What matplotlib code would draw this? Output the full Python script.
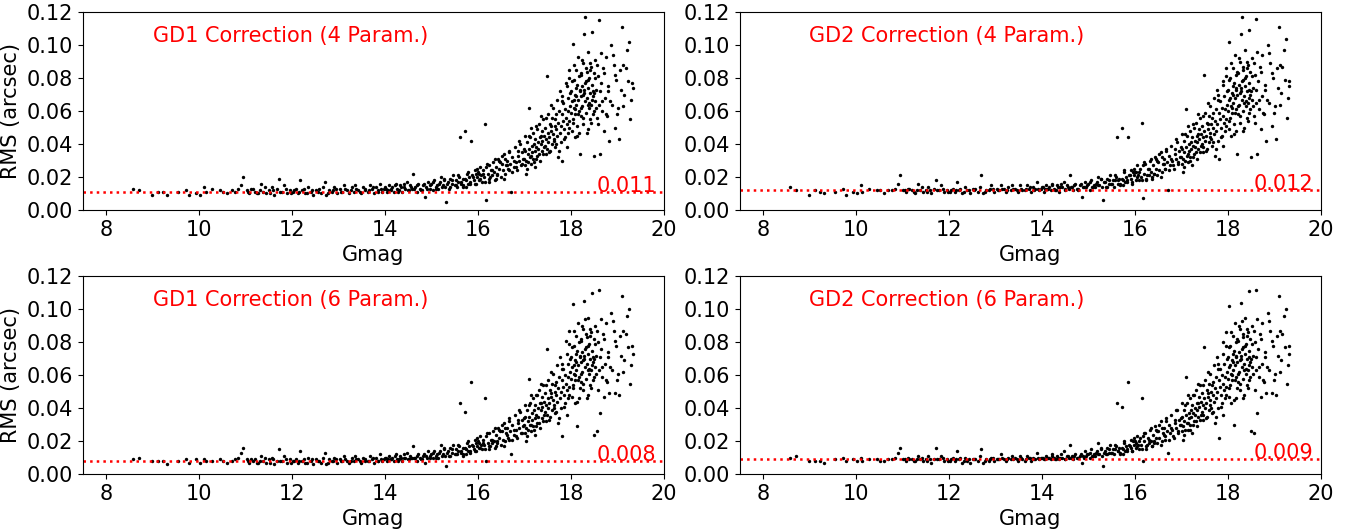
import matplotlib
matplotlib.use('Agg')
import matplotlib.pyplot as plt
import numpy as np

# magnitudes of the stars (same stars in all four panels)
gmag = [
    8.58, 8.70, 8.98, 9.12, 9.22, 9.31, 9.55, 9.72, 9.78, 9.93,
    10.02, 10.10, 10.14, 10.28, 10.45, 10.52, 10.61, 10.70, 10.78, 10.84,
    10.90, 10.95, 11.02, 11.08, 11.15, 11.20, 11.27, 11.33, 11.38, 11.45,
    11.50, 11.56, 11.62, 11.68, 11.72, 11.78, 11.83, 11.90, 11.95, 12.02,
    12.08, 12.13, 12.18, 12.22, 12.28, 12.35, 12.40, 12.46, 12.52, 12.57,
    12.63, 12.70, 12.74, 12.80, 12.86, 12.91, 12.97, 13.03, 13.08, 13.12,
    13.18, 13.23, 13.28, 13.33, 13.38, 13.43, 13.48, 13.53, 13.58, 13.63,
    13.68, 13.72, 13.77, 13.81, 13.86, 13.90, 13.94, 13.98, 14.02, 14.05,
    14.09, 14.12, 14.16, 14.19, 14.23, 14.26, 14.30, 14.33, 14.37, 14.40,
    14.44, 14.47, 14.51, 14.54, 14.58, 14.61, 14.65, 14.68, 14.72, 14.75,
    14.79, 14.82, 14.86, 14.89, 14.93, 14.96, 15.00, 15.03, 15.06, 15.09,
    15.12, 15.15, 15.18, 15.21, 15.24, 15.27, 15.30, 15.32, 15.35, 15.38,
    15.41, 15.44, 15.47, 15.50, 15.53, 15.55, 15.58, 15.60, 15.62, 15.64,
    15.67, 15.69, 15.72, 15.74, 15.77, 15.79, 15.81, 15.84, 15.86, 15.88,
    15.91, 15.93, 15.95, 15.98, 16.00, 16.02, 16.05, 16.07, 16.09, 16.12,
    16.14, 16.16, 16.18, 16.21, 16.23, 16.25, 16.28, 16.30, 16.32, 16.35,
    16.37, 16.39, 16.42, 16.44, 16.46, 16.49, 16.51, 16.53, 16.56, 16.58,
    16.60, 16.63, 16.65, 16.67, 16.70, 16.72, 16.74, 16.77, 16.79, 16.81,
    16.84, 16.86, 16.88, 16.91, 16.93, 16.95, 16.98, 17.00, 17.01, 17.02,
    17.04, 17.05, 17.06, 17.07, 17.08, 17.10, 17.11, 17.12, 17.13, 17.15,
    17.16, 17.17, 17.18, 17.19, 17.21, 17.22, 17.23, 17.24, 17.26, 17.27,
    17.28, 17.29, 17.30, 17.32, 17.33, 17.34, 17.35, 17.37, 17.38, 17.39,
    17.40, 17.41, 17.43, 17.44, 17.45, 17.46, 17.48, 17.49, 17.50, 17.51,
    17.52, 17.54, 17.55, 17.56, 17.57, 17.59, 17.60, 17.61, 17.62, 17.63,
    17.65, 17.66, 17.67, 17.68, 17.70, 17.71, 17.72, 17.73, 17.74, 17.76,
    17.77, 17.78, 17.79, 17.81, 17.82, 17.83, 17.84, 17.85, 17.87, 17.88,
    17.89, 17.90, 17.92, 17.93, 17.94, 17.95, 17.96, 17.97, 17.98, 17.99,
    18.00, 18.01, 18.02, 18.03, 18.04, 18.05, 18.06, 18.07, 18.08, 18.09,
    18.10, 18.11, 18.12, 18.13, 18.14, 18.15, 18.16, 18.17, 18.18, 18.19,
    18.20, 18.21, 18.22, 18.23, 18.24, 18.25, 18.26, 18.27, 18.28, 18.29,
    18.30, 18.31, 18.32, 18.33, 18.34, 18.35, 18.36, 18.37, 18.38, 18.39,
    18.40, 18.41, 18.42, 18.43, 18.44, 18.45, 18.46, 18.47, 18.48, 18.49,
    18.50, 18.52, 18.53, 18.55, 18.56, 18.58, 18.60, 18.61, 18.63, 18.65,
    18.67, 18.69, 18.71, 18.73, 18.75, 18.78, 18.80, 18.83, 18.86, 18.89,
    18.92, 18.95, 18.98, 19.02, 19.04, 19.06, 19.10, 19.13, 19.15, 19.22,
    19.25, 19.28, 19.31,
    # second batch, mostly the faint end
    11.05, 11.12, 11.24, 11.31, 11.42, 11.53, 11.60, 11.75, 11.87, 11.98,
    12.05, 12.16, 12.25, 12.33, 12.44, 12.55, 12.66, 12.78, 12.89, 12.95,
    13.05, 13.15, 13.26, 13.36, 13.46, 13.56, 13.66, 13.75, 13.84, 13.92,
    14.00, 14.07, 14.14, 14.21, 14.28, 14.35, 14.42, 14.49, 14.56, 14.63,
    14.70, 14.77, 14.84, 14.91, 14.98, 15.04, 15.10, 15.16, 15.22, 15.28,
    15.34, 15.40, 15.45, 15.52, 15.57, 15.63, 15.68, 15.73, 15.78, 15.83,
    15.89, 15.94, 15.99, 16.04, 16.10, 16.15, 16.20, 16.26, 16.31, 16.36,
    16.41, 16.47, 16.52, 16.57, 16.62, 16.68, 16.73, 16.78, 16.83, 16.89,
    16.94, 16.99, 17.03, 17.09, 17.14, 17.20, 17.25, 17.31, 17.36, 17.42,
    17.47, 17.53, 17.58, 17.64, 17.69, 17.75, 17.80, 17.86, 17.91, 17.97,
    17.02, 17.14, 17.26, 17.36, 17.47, 17.58, 17.69, 17.80, 17.91, 17.96,
    18.02, 18.04, 18.07, 18.09, 18.12, 18.14, 18.17, 18.19, 18.22, 18.24,
    18.27, 18.29, 18.32, 18.34, 18.37, 18.39, 18.42, 18.44, 18.47, 18.49,
    18.52, 18.54, 18.57, 18.59, 18.62, 18.64, 18.68, 18.72, 18.76, 18.81,
    18.85, 18.90, 18.96, 19.00, 19.08, 19.12, 19.18, 19.24, 19.29, 19.33,
    18.06, 18.11, 18.16, 18.21, 18.26, 18.31, 18.36, 18.41, 18.46, 18.51,
    16.03, 16.24, 16.45, 16.66, 16.87, 15.75, 15.96, 16.17, 16.38, 16.59,
]

rms_gd1_4 = [
    0.013, 0.012, 0.009, 0.011, 0.011, 0.009, 0.011, 0.012, 0.009, 0.010,
    0.009, 0.014, 0.011, 0.013, 0.012, 0.011, 0.010, 0.012, 0.011, 0.013,
    0.015, 0.020, 0.012, 0.010, 0.013, 0.011, 0.010, 0.016, 0.011, 0.010,
    0.012, 0.014, 0.009, 0.013, 0.019, 0.011, 0.015, 0.010, 0.012, 0.011,
    0.013, 0.010, 0.018, 0.012, 0.010, 0.014, 0.011, 0.009, 0.012, 0.013,
    0.010, 0.017, 0.009, 0.012, 0.011, 0.014, 0.010, 0.013, 0.011, 0.015,
    0.012, 0.010, 0.014, 0.011, 0.013, 0.012, 0.010, 0.014, 0.012, 0.011,
    0.015, 0.013, 0.010, 0.014, 0.012, 0.016, 0.011, 0.013, 0.013, 0.011,
    0.015, 0.012, 0.014, 0.011, 0.016, 0.013, 0.012, 0.015, 0.011, 0.014,
    0.013, 0.017, 0.012, 0.015, 0.013, 0.022, 0.014, 0.011, 0.016, 0.013,
    0.012, 0.015, 0.008, 0.014, 0.017, 0.013, 0.016, 0.012, 0.018, 0.014,
    0.015, 0.013, 0.017, 0.020, 0.015, 0.018, 0.014, 0.005, 0.017, 0.013,
    0.019, 0.016, 0.021, 0.015, 0.018, 0.014, 0.017, 0.020, 0.044, 0.016,
    0.019, 0.015, 0.048, 0.018, 0.022, 0.016, 0.020, 0.017, 0.042, 0.021,
    0.018, 0.024, 0.016, 0.020, 0.023, 0.018, 0.026, 0.021, 0.017, 0.024,
    0.020, 0.052, 0.006, 0.022, 0.027, 0.019, 0.024, 0.021, 0.029, 0.023,
    0.018, 0.026, 0.022, 0.031, 0.025, 0.020, 0.028, 0.024, 0.034, 0.022,
    0.027, 0.030, 0.025, 0.036, 0.028, 0.011, 0.032, 0.026, 0.038, 0.029,
    0.024, 0.033, 0.030, 0.040, 0.027, 0.035, 0.031, 0.031, 0.027, 0.036,
    0.030, 0.041, 0.025, 0.034, 0.029, 0.062, 0.037, 0.032, 0.044, 0.028,
    0.039, 0.035, 0.047, 0.031, 0.040, 0.036, 0.026, 0.043, 0.038, 0.049,
    0.033, 0.041, 0.037, 0.052, 0.030, 0.044, 0.040, 0.036, 0.048, 0.042,
    0.055, 0.034, 0.045, 0.039, 0.050, 0.043, 0.037, 0.081, 0.047, 0.041,
    0.058, 0.044, 0.036, 0.052, 0.048, 0.040, 0.056, 0.046, 0.062, 0.043,
    0.051, 0.038, 0.055, 0.049, 0.067, 0.045, 0.032, 0.053, 0.060, 0.047,
    0.072, 0.051, 0.041, 0.058, 0.030, 0.054, 0.065, 0.049, 0.061, 0.044,
    0.077, 0.056, 0.052, 0.068, 0.047, 0.060, 0.085, 0.054, 0.071, 0.063,
    0.059, 0.072, 0.048, 0.066, 0.101, 0.055, 0.079, 0.062, 0.044, 0.070,
    0.058, 0.085, 0.064, 0.051, 0.076, 0.067, 0.093, 0.060, 0.047, 0.073,
    0.034, 0.069, 0.082, 0.057, 0.075, 0.063, 0.089, 0.052, 0.071, 0.107,
    0.066, 0.117, 0.078, 0.059, 0.084, 0.068, 0.049, 0.074, 0.096, 0.062,
    0.080, 0.055, 0.071, 0.087, 0.064, 0.108, 0.076, 0.058, 0.069, 0.083,
    0.033, 0.066, 0.091, 0.073, 0.056, 0.081, 0.115, 0.064, 0.034, 0.077,
    0.060, 0.086, 0.048, 0.068, 0.093, 0.057, 0.072, 0.042, 0.100, 0.064,
    0.088, 0.050, 0.079, 0.062, 0.043, 0.085, 0.111, 0.088, 0.070, 0.097,
    0.102, 0.055, 0.077,
    0.011, 0.013, 0.010, 0.012, 0.014, 0.010, 0.012, 0.011, 0.013, 0.010,
    0.012, 0.011, 0.013, 0.010, 0.012, 0.011, 0.014, 0.010, 0.012, 0.013,
    0.011, 0.013, 0.012, 0.015, 0.011, 0.013, 0.012, 0.014, 0.011, 0.013,
    0.014, 0.012, 0.013, 0.015, 0.011, 0.014, 0.016, 0.012, 0.014, 0.013,
    0.015, 0.012, 0.016, 0.013, 0.015, 0.017, 0.013, 0.016, 0.014, 0.019,
    0.016, 0.014, 0.018, 0.015, 0.021, 0.017, 0.014, 0.019, 0.023, 0.016,
    0.020, 0.016, 0.025, 0.019, 0.022, 0.017, 0.028, 0.020, 0.024, 0.031,
    0.021, 0.029, 0.033, 0.019, 0.027, 0.035, 0.023, 0.030, 0.026, 0.042,
    0.028, 0.037, 0.022, 0.045, 0.033, 0.029, 0.051, 0.034, 0.045, 0.038,
    0.056, 0.035, 0.064, 0.042, 0.058, 0.036, 0.066, 0.043, 0.075, 0.050,
    0.045, 0.050, 0.031, 0.057, 0.034, 0.051, 0.040, 0.069, 0.038, 0.080,
    0.078, 0.053, 0.088, 0.061, 0.069, 0.045, 0.081, 0.072, 0.062, 0.091,
    0.056, 0.073, 0.086, 0.047, 0.079, 0.065, 0.089, 0.053, 0.072, 0.060,
    0.080, 0.062, 0.088, 0.052, 0.072, 0.095, 0.066, 0.083, 0.058, 0.075,
    0.066, 0.094, 0.082, 0.058, 0.073, 0.063, 0.086, 0.078, 0.067, 0.074,
    0.067, 0.074, 0.058, 0.083, 0.070, 0.077, 0.064, 0.085, 0.067, 0.071,
    0.022, 0.017, 0.030, 0.024, 0.036, 0.014, 0.022, 0.026, 0.019, 0.031,
]

rms_gd2_4 = [
    0.014, 0.012, 0.009, 0.012, 0.011, 0.010, 0.011, 0.013, 0.009, 0.011,
    0.010, 0.015, 0.011, 0.013, 0.012, 0.012, 0.010, 0.012, 0.012, 0.013,
    0.016, 0.021, 0.012, 0.011, 0.013, 0.012, 0.010, 0.016, 0.012, 0.011,
    0.012, 0.014, 0.010, 0.013, 0.018, 0.012, 0.015, 0.011, 0.012, 0.011,
    0.013, 0.011, 0.017, 0.012, 0.010, 0.014, 0.012, 0.010, 0.013, 0.013,
    0.011, 0.021, 0.010, 0.012, 0.012, 0.015, 0.011, 0.013, 0.012, 0.015,
    0.013, 0.011, 0.014, 0.012, 0.013, 0.013, 0.011, 0.015, 0.012, 0.012,
    0.015, 0.013, 0.011, 0.014, 0.013, 0.017, 0.012, 0.013, 0.014, 0.011,
    0.015, 0.013, 0.014, 0.012, 0.016, 0.013, 0.012, 0.015, 0.011, 0.014,
    0.014, 0.017, 0.012, 0.015, 0.013, 0.021, 0.014, 0.012, 0.016, 0.013,
    0.012, 0.015, 0.008, 0.014, 0.017, 0.014, 0.016, 0.012, 0.018, 0.014,
    0.015, 0.014, 0.017, 0.020, 0.015, 0.019, 0.014, 0.006, 0.017, 0.014,
    0.019, 0.016, 0.021, 0.016, 0.018, 0.014, 0.018, 0.020, 0.044, 0.016,
    0.019, 0.016, 0.050, 0.018, 0.023, 0.017, 0.020, 0.018, 0.044, 0.021,
    0.019, 0.024, 0.016, 0.021, 0.023, 0.018, 0.027, 0.021, 0.018, 0.025,
    0.020, 0.053, 0.007, 0.022, 0.028, 0.019, 0.025, 0.021, 0.030, 0.023,
    0.019, 0.027, 0.022, 0.032, 0.025, 0.021, 0.029, 0.024, 0.035, 0.023,
    0.028, 0.031, 0.025, 0.037, 0.029, 0.012, 0.033, 0.027, 0.039, 0.030,
    0.025, 0.034, 0.031, 0.041, 0.028, 0.036, 0.032, 0.032, 0.028, 0.037,
    0.031, 0.042, 0.026, 0.035, 0.030, 0.061, 0.038, 0.033, 0.045, 0.029,
    0.040, 0.036, 0.048, 0.032, 0.041, 0.037, 0.027, 0.044, 0.039, 0.050,
    0.034, 0.042, 0.038, 0.053, 0.031, 0.045, 0.041, 0.037, 0.049, 0.043,
    0.056, 0.035, 0.046, 0.040, 0.051, 0.044, 0.038, 0.082, 0.048, 0.042,
    0.059, 0.045, 0.037, 0.053, 0.049, 0.041, 0.057, 0.047, 0.063, 0.044,
    0.052, 0.039, 0.056, 0.050, 0.068, 0.046, 0.033, 0.054, 0.061, 0.048,
    0.073, 0.052, 0.042, 0.059, 0.031, 0.055, 0.066, 0.050, 0.062, 0.045,
    0.078, 0.057, 0.053, 0.069, 0.048, 0.061, 0.086, 0.055, 0.072, 0.064,
    0.060, 0.073, 0.049, 0.067, 0.102, 0.056, 0.080, 0.063, 0.045, 0.071,
    0.059, 0.086, 0.065, 0.052, 0.077, 0.068, 0.094, 0.061, 0.048, 0.074,
    0.034, 0.070, 0.083, 0.058, 0.076, 0.064, 0.090, 0.053, 0.072, 0.107,
    0.067, 0.117, 0.079, 0.060, 0.085, 0.069, 0.050, 0.075, 0.097, 0.063,
    0.081, 0.056, 0.072, 0.088, 0.065, 0.109, 0.077, 0.059, 0.070, 0.084,
    0.032, 0.067, 0.092, 0.074, 0.057, 0.082, 0.116, 0.065, 0.034, 0.078,
    0.061, 0.087, 0.049, 0.069, 0.094, 0.058, 0.073, 0.042, 0.100, 0.065,
    0.089, 0.051, 0.080, 0.063, 0.043, 0.086, 0.111, 0.088, 0.071, 0.097,
    0.104, 0.056, 0.078,
    0.012, 0.013, 0.011, 0.012, 0.014, 0.011, 0.012, 0.012, 0.013, 0.011,
    0.012, 0.012, 0.013, 0.011, 0.012, 0.012, 0.014, 0.011, 0.013, 0.013,
    0.012, 0.013, 0.012, 0.015, 0.012, 0.013, 0.013, 0.014, 0.012, 0.013,
    0.014, 0.013, 0.013, 0.015, 0.012, 0.014, 0.016, 0.013, 0.014, 0.014,
    0.015, 0.013, 0.016, 0.014, 0.015, 0.017, 0.014, 0.016, 0.015, 0.019,
    0.017, 0.014, 0.018, 0.016, 0.021, 0.018, 0.015, 0.019, 0.024, 0.017,
    0.021, 0.017, 0.025, 0.020, 0.023, 0.018, 0.029, 0.021, 0.025, 0.031,
    0.022, 0.030, 0.034, 0.020, 0.028, 0.036, 0.024, 0.031, 0.027, 0.043,
    0.029, 0.038, 0.023, 0.046, 0.034, 0.030, 0.052, 0.035, 0.046, 0.039,
    0.057, 0.036, 0.065, 0.043, 0.059, 0.037, 0.067, 0.044, 0.076, 0.051,
    0.046, 0.051, 0.032, 0.058, 0.035, 0.052, 0.041, 0.070, 0.039, 0.081,
    0.079, 0.054, 0.089, 0.062, 0.070, 0.046, 0.082, 0.073, 0.063, 0.092,
    0.057, 0.074, 0.087, 0.048, 0.080, 0.066, 0.090, 0.054, 0.073, 0.061,
    0.081, 0.063, 0.089, 0.053, 0.073, 0.096, 0.067, 0.084, 0.059, 0.076,
    0.067, 0.095, 0.083, 0.059, 0.074, 0.064, 0.087, 0.079, 0.068, 0.075,
    0.068, 0.075, 0.059, 0.084, 0.071, 0.078, 0.065, 0.086, 0.068, 0.072,
    0.023, 0.018, 0.031, 0.025, 0.037, 0.015, 0.023, 0.027, 0.020, 0.032,
]

rms_gd1_6 = [
    0.009, 0.010, 0.008, 0.008, 0.008, 0.006, 0.008, 0.009, 0.007, 0.009,
    0.007, 0.009, 0.008, 0.008, 0.009, 0.008, 0.007, 0.008, 0.009, 0.010,
    0.013, 0.016, 0.009, 0.007, 0.008, 0.009, 0.007, 0.011, 0.008, 0.007,
    0.009, 0.010, 0.006, 0.008, 0.015, 0.008, 0.011, 0.007, 0.009, 0.008,
    0.009, 0.007, 0.014, 0.008, 0.007, 0.010, 0.008, 0.006, 0.009, 0.008,
    0.007, 0.013, 0.006, 0.009, 0.008, 0.010, 0.007, 0.009, 0.008, 0.011,
    0.008, 0.007, 0.010, 0.008, 0.009, 0.009, 0.007, 0.010, 0.008, 0.008,
    0.011, 0.009, 0.007, 0.010, 0.008, 0.012, 0.008, 0.009, 0.010, 0.008,
    0.011, 0.009, 0.010, 0.008, 0.012, 0.009, 0.009, 0.011, 0.008, 0.010,
    0.010, 0.013, 0.009, 0.011, 0.010, 0.017, 0.010, 0.008, 0.012, 0.010,
    0.009, 0.011, 0.007, 0.011, 0.014, 0.010, 0.012, 0.010, 0.014, 0.011,
    0.012, 0.010, 0.014, 0.018, 0.012, 0.015, 0.011, 0.005, 0.014, 0.011,
    0.016, 0.013, 0.018, 0.012, 0.015, 0.012, 0.014, 0.017, 0.043, 0.013,
    0.016, 0.012, 0.038, 0.015, 0.019, 0.014, 0.017, 0.014, 0.056, 0.018,
    0.015, 0.021, 0.014, 0.017, 0.020, 0.016, 0.023, 0.018, 0.015, 0.021,
    0.018, 0.046, 0.008, 0.019, 0.025, 0.017, 0.021, 0.019, 0.026, 0.020,
    0.016, 0.024, 0.020, 0.028, 0.022, 0.018, 0.026, 0.021, 0.031, 0.020,
    0.025, 0.028, 0.022, 0.034, 0.026, 0.012, 0.030, 0.024, 0.036, 0.027,
    0.022, 0.031, 0.028, 0.038, 0.025, 0.033, 0.029, 0.030, 0.025, 0.035,
    0.028, 0.039, 0.023, 0.032, 0.027, 0.058, 0.035, 0.030, 0.043, 0.026,
    0.037, 0.033, 0.046, 0.029, 0.039, 0.034, 0.024, 0.042, 0.036, 0.048,
    0.031, 0.040, 0.035, 0.051, 0.028, 0.043, 0.039, 0.034, 0.047, 0.041,
    0.054, 0.032, 0.044, 0.038, 0.049, 0.042, 0.036, 0.076, 0.046, 0.040,
    0.057, 0.043, 0.035, 0.051, 0.047, 0.039, 0.055, 0.045, 0.061, 0.042,
    0.050, 0.037, 0.054, 0.048, 0.066, 0.044, 0.031, 0.052, 0.059, 0.046,
    0.071, 0.050, 0.040, 0.057, 0.023, 0.053, 0.064, 0.048, 0.060, 0.043,
    0.081, 0.055, 0.051, 0.067, 0.046, 0.059, 0.087, 0.053, 0.070, 0.062,
    0.058, 0.071, 0.047, 0.065, 0.103, 0.054, 0.078, 0.061, 0.043, 0.069,
    0.057, 0.084, 0.063, 0.029, 0.075, 0.066, 0.092, 0.059, 0.046, 0.072,
    0.052, 0.068, 0.081, 0.056, 0.074, 0.062, 0.088, 0.051, 0.070, 0.105,
    0.065, 0.094, 0.077, 0.058, 0.083, 0.067, 0.048, 0.073, 0.095, 0.061,
    0.079, 0.054, 0.070, 0.086, 0.063, 0.110, 0.075, 0.057, 0.068, 0.082,
    0.024, 0.065, 0.090, 0.072, 0.026, 0.080, 0.112, 0.063, 0.037, 0.076,
    0.059, 0.085, 0.047, 0.067, 0.092, 0.056, 0.071, 0.049, 0.098, 0.063,
    0.087, 0.049, 0.078, 0.061, 0.048, 0.084, 0.108, 0.087, 0.069, 0.096,
    0.100, 0.055, 0.078,
    0.008, 0.009, 0.007, 0.008, 0.010, 0.007, 0.009, 0.008, 0.009, 0.007,
    0.008, 0.008, 0.009, 0.007, 0.009, 0.008, 0.010, 0.007, 0.008, 0.009,
    0.008, 0.009, 0.008, 0.011, 0.008, 0.009, 0.008, 0.010, 0.008, 0.009,
    0.010, 0.009, 0.009, 0.011, 0.008, 0.010, 0.012, 0.009, 0.010, 0.010,
    0.011, 0.009, 0.012, 0.010, 0.011, 0.013, 0.010, 0.013, 0.011, 0.016,
    0.013, 0.011, 0.015, 0.012, 0.018, 0.014, 0.011, 0.016, 0.020, 0.013,
    0.017, 0.014, 0.022, 0.016, 0.019, 0.015, 0.025, 0.017, 0.021, 0.028,
    0.019, 0.026, 0.030, 0.017, 0.024, 0.032, 0.021, 0.027, 0.023, 0.039,
    0.025, 0.034, 0.020, 0.042, 0.030, 0.027, 0.048, 0.031, 0.043, 0.036,
    0.054, 0.033, 0.062, 0.040, 0.056, 0.034, 0.064, 0.041, 0.073, 0.048,
    0.042, 0.048, 0.029, 0.055, 0.032, 0.049, 0.038, 0.067, 0.036, 0.079,
    0.077, 0.052, 0.087, 0.060, 0.068, 0.044, 0.080, 0.071, 0.061, 0.090,
    0.055, 0.072, 0.085, 0.046, 0.078, 0.064, 0.088, 0.052, 0.071, 0.059,
    0.079, 0.061, 0.087, 0.051, 0.071, 0.094, 0.065, 0.082, 0.057, 0.074,
    0.065, 0.093, 0.081, 0.057, 0.072, 0.062, 0.085, 0.077, 0.066, 0.073,
    0.066, 0.073, 0.057, 0.082, 0.069, 0.076, 0.063, 0.084, 0.066, 0.070,
    0.019, 0.015, 0.027, 0.021, 0.033, 0.012, 0.019, 0.023, 0.017, 0.028,
]

rms_gd2_6 = [
    0.010, 0.011, 0.008, 0.008, 0.008, 0.007, 0.009, 0.010, 0.008, 0.009,
    0.008, 0.010, 0.008, 0.009, 0.009, 0.008, 0.008, 0.009, 0.009, 0.010,
    0.013, 0.016, 0.009, 0.008, 0.009, 0.009, 0.008, 0.011, 0.009, 0.008,
    0.009, 0.011, 0.007, 0.009, 0.016, 0.009, 0.011, 0.008, 0.009, 0.008,
    0.010, 0.008, 0.014, 0.009, 0.007, 0.010, 0.008, 0.007, 0.009, 0.009,
    0.008, 0.015, 0.007, 0.009, 0.008, 0.010, 0.008, 0.009, 0.009, 0.012,
    0.009, 0.008, 0.010, 0.009, 0.009, 0.010, 0.008, 0.011, 0.009, 0.008,
    0.011, 0.010, 0.008, 0.010, 0.009, 0.013, 0.009, 0.010, 0.010, 0.009,
    0.011, 0.010, 0.010, 0.009, 0.012, 0.010, 0.009, 0.011, 0.009, 0.010,
    0.010, 0.014, 0.009, 0.011, 0.010, 0.018, 0.011, 0.009, 0.012, 0.010,
    0.010, 0.011, 0.007, 0.011, 0.014, 0.011, 0.012, 0.010, 0.015, 0.011,
    0.012, 0.011, 0.014, 0.019, 0.012, 0.015, 0.011, 0.005, 0.014, 0.012,
    0.016, 0.013, 0.018, 0.013, 0.015, 0.012, 0.015, 0.017, 0.043, 0.014,
    0.016, 0.013, 0.041, 0.015, 0.019, 0.014, 0.017, 0.015, 0.056, 0.018,
    0.016, 0.021, 0.014, 0.018, 0.020, 0.016, 0.023, 0.018, 0.015, 0.022,
    0.018, 0.046, 0.008, 0.020, 0.025, 0.017, 0.022, 0.019, 0.027, 0.020,
    0.017, 0.024, 0.020, 0.029, 0.022, 0.019, 0.026, 0.022, 0.032, 0.020,
    0.025, 0.028, 0.023, 0.034, 0.026, 0.013, 0.030, 0.025, 0.036, 0.027,
    0.022, 0.031, 0.028, 0.039, 0.025, 0.033, 0.030, 0.030, 0.026, 0.035,
    0.029, 0.039, 0.024, 0.032, 0.027, 0.059, 0.036, 0.031, 0.043, 0.027,
    0.037, 0.034, 0.046, 0.030, 0.039, 0.035, 0.025, 0.042, 0.037, 0.048,
    0.032, 0.040, 0.036, 0.051, 0.029, 0.043, 0.039, 0.035, 0.047, 0.041,
    0.054, 0.033, 0.044, 0.038, 0.049, 0.042, 0.036, 0.077, 0.046, 0.040,
    0.057, 0.043, 0.035, 0.051, 0.047, 0.039, 0.055, 0.045, 0.061, 0.042,
    0.050, 0.037, 0.054, 0.048, 0.066, 0.044, 0.031, 0.052, 0.059, 0.046,
    0.071, 0.050, 0.040, 0.057, 0.022, 0.053, 0.064, 0.048, 0.060, 0.043,
    0.080, 0.055, 0.051, 0.067, 0.046, 0.059, 0.086, 0.053, 0.070, 0.062,
    0.058, 0.071, 0.047, 0.065, 0.102, 0.054, 0.078, 0.061, 0.043, 0.069,
    0.057, 0.084, 0.063, 0.030, 0.075, 0.066, 0.092, 0.059, 0.046, 0.072,
    0.052, 0.068, 0.081, 0.056, 0.074, 0.062, 0.088, 0.051, 0.070, 0.104,
    0.065, 0.093, 0.077, 0.058, 0.083, 0.067, 0.048, 0.073, 0.095, 0.061,
    0.079, 0.054, 0.070, 0.086, 0.063, 0.111, 0.075, 0.057, 0.068, 0.082,
    0.026, 0.065, 0.090, 0.072, 0.025, 0.080, 0.112, 0.063, 0.037, 0.076,
    0.059, 0.085, 0.047, 0.067, 0.092, 0.056, 0.071, 0.049, 0.098, 0.063,
    0.087, 0.049, 0.078, 0.061, 0.048, 0.084, 0.108, 0.087, 0.069, 0.096,
    0.100, 0.055, 0.078,
    0.009, 0.010, 0.008, 0.009, 0.010, 0.008, 0.009, 0.009, 0.010, 0.008,
    0.009, 0.009, 0.010, 0.008, 0.009, 0.009, 0.011, 0.008, 0.009, 0.010,
    0.009, 0.010, 0.009, 0.011, 0.009, 0.010, 0.009, 0.010, 0.009, 0.010,
    0.010, 0.009, 0.010, 0.011, 0.009, 0.010, 0.012, 0.009, 0.011, 0.010,
    0.011, 0.010, 0.012, 0.010, 0.012, 0.013, 0.011, 0.013, 0.012, 0.016,
    0.013, 0.012, 0.015, 0.013, 0.018, 0.014, 0.012, 0.016, 0.020, 0.014,
    0.017, 0.014, 0.022, 0.017, 0.020, 0.015, 0.025, 0.018, 0.021, 0.028,
    0.019, 0.026, 0.030, 0.018, 0.024, 0.032, 0.021, 0.028, 0.023, 0.039,
    0.026, 0.034, 0.021, 0.042, 0.031, 0.027, 0.048, 0.032, 0.043, 0.036,
    0.054, 0.034, 0.062, 0.040, 0.056, 0.035, 0.064, 0.041, 0.073, 0.048,
    0.043, 0.048, 0.030, 0.055, 0.033, 0.049, 0.038, 0.067, 0.036, 0.078,
    0.077, 0.052, 0.086, 0.060, 0.068, 0.045, 0.080, 0.071, 0.061, 0.090,
    0.055, 0.072, 0.085, 0.046, 0.078, 0.064, 0.088, 0.052, 0.071, 0.059,
    0.079, 0.061, 0.087, 0.051, 0.071, 0.094, 0.065, 0.082, 0.057, 0.074,
    0.065, 0.093, 0.081, 0.057, 0.072, 0.062, 0.085, 0.077, 0.066, 0.073,
    0.066, 0.073, 0.057, 0.082, 0.069, 0.076, 0.063, 0.084, 0.066, 0.070,
    0.019, 0.015, 0.027, 0.021, 0.033, 0.012, 0.020, 0.023, 0.017, 0.028,
]

titles = ['GD1 Correction (4 Param.)', 'GD2 Correction (4 Param.)',
          'GD1 Correction (6 Param.)', 'GD2 Correction (6 Param.)']
floors = [0.011, 0.012, 0.008, 0.009]
floor_labels = ['0.011', '0.012', '0.008', '0.009']
series = [rms_gd1_4, rms_gd2_4, rms_gd1_6, rms_gd2_6]

fs = 15
fig, axarr = plt.subplots(2, 2, figsize=(13.6, 5.31))
fig.subplots_adjust(left=0.061, right=0.971, top=0.977, bottom=0.107,
                    wspace=0.131, hspace=0.336)

for i, ax in enumerate(axarr.flat):
    ax.scatter(gmag, series[i], s=6, c='black', linewidths=0)
    ax.axhline(floors[i], color='red', linestyle=':', linewidth=1.8)
    ax.text(0.12, 0.88, titles[i], transform=ax.transAxes, color='red',
            fontsize=fs, va='center')
    ax.text(18.55, floors[i], floor_labels[i], color='red', fontsize=fs,
            va='baseline')
    ax.set_xlim(7.5, 20)
    ax.set_ylim(0, 0.12)
    ax.set_xticks(np.arange(8, 21, 2))
    ax.set_yticks(np.arange(0, 0.121, 0.02))
    ax.set_yticklabels(['%.2f' % v for v in np.arange(0, 0.121, 0.02)])
    ax.tick_params(labelsize=fs)
    ax.set_xlabel('Gmag', fontsize=fs)
    if i % 2 == 0:
        ax.set_ylabel('RMS (arcsec)', fontsize=fs)

fig.savefig('out.png', dpi=100)
